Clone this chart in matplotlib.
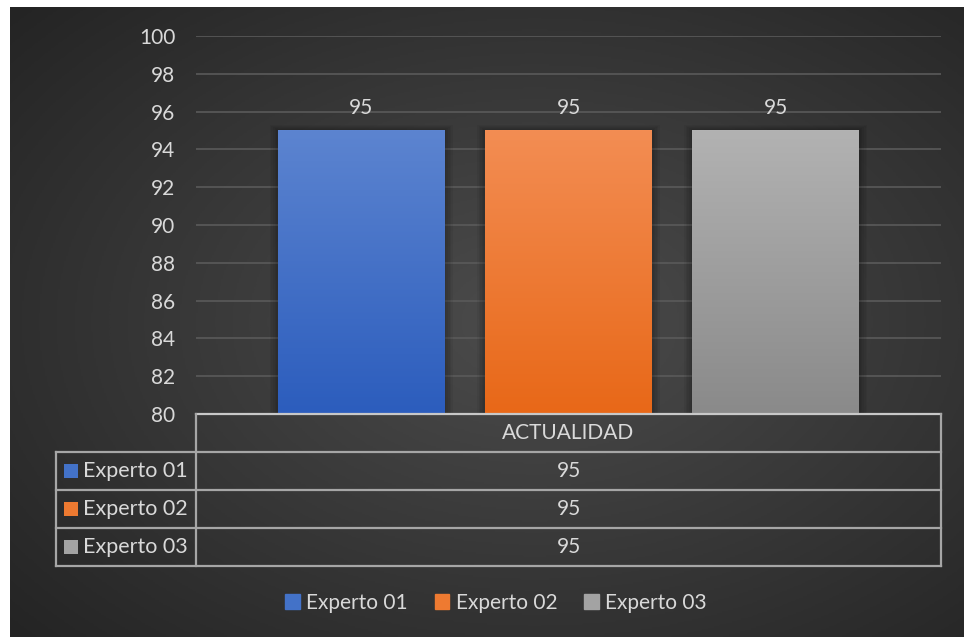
import numpy as np
import matplotlib
matplotlib.use("Agg")
import matplotlib.pyplot as plt
from matplotlib.colors import LinearSegmentedColormap
from matplotlib.patches import Rectangle
from matplotlib.lines import Line2D

plt.rcParams['font.family'] = ['Lato', 'DejaVu Sans']

# Chart data
category = 'ACTUALIDAD'
series = ['Experto 01', 'Experto 02', 'Experto 03']
values = [95, 95, 95]
yticks = [80, 82, 84, 86, 88, 90, 92, 94, 96, 98, 100]

# gradient (top, bottom) per series
grad = [('#5c84d0', '#2c5dbd'), ('#f38d53', '#e86818'), ('#b2b2b2', '#8a8a8a')]
solid = ['#4372c8', '#ee7a31', '#a3a3a3']
txt = '#d9d9d9'
line_c = '#a6a6a6'

W, H = 964, 637
fig = plt.figure(figsize=(W / 100, H / 100), dpi=100)
fig.patch.set_facecolor('white')

# radial dark background
bg = fig.add_axes([10 / W, 0, (W - 10) / W, (H - 7) / H])
bg.set_axis_off()
yy, xx = np.mgrid[0:1:400j, 0:1:600j]
r = np.sqrt(((xx - 0.55) / 0.75) ** 2 + ((yy - 0.5) / 0.75) ** 2)
shade = np.clip(1 - r, 0, 1)
bg_cmap = LinearSegmentedColormap.from_list('bg', ['#242424', '#4c4c4c'])
bg.imshow(shade, cmap=bg_cmap, aspect='auto', extent=[0, 1, 0, 1], origin='lower')

# main plot area
x0, x1, ytop, ybot = 196, 941, 36, 414
ax = fig.add_axes([x0 / W, (H - ybot) / H, (x1 - x0) / W, (ybot - ytop) / H])
ax.patch.set_alpha(0)
ax.set_xlim(-0.5, 0.5)
ax.set_ylim(80, 100)
ax.set_yticks(yticks)
ax.set_yticklabels([str(t) for t in yticks], color=txt, fontsize=15)
ax.tick_params(axis='y', length=0, pad=15)
ax.set_xticks([])
for s in ax.spines.values():
    s.set_visible(False)
ax.grid(axis='y', color='#5a5a5a', linewidth=1.2)
ax.set_axisbelow(True)

bw = 0.224
offs = [-0.278, 0.0, 0.278]
for i, (off, v) in enumerate(zip(offs, values)):
    bar = ax.bar(off, v - 80, bottom=80, width=bw, color=solid[i], zorder=3)[0]
    bx, bwid = bar.get_x(), bar.get_width()
    # soft shadow
    for k in range(1, 6):
        pad = 0.0022 * k
        ax.add_patch(Rectangle((bx - pad, 80), bwid + 2 * pad, v - 80 + 0.06 * k,
                               color='black', alpha=0.05, zorder=2, linewidth=0))
    cm = LinearSegmentedColormap.from_list('g%d' % i, [grad[i][1], grad[i][0]])
    ax.imshow(np.linspace(0, 1, 100).reshape(-1, 1), cmap=cm, aspect='auto',
              extent=[bx, bx + bwid, 80, v], origin='lower', zorder=4)
    ax.text(off, v + 0.65, str(v), ha='center', va='bottom', color=txt, fontsize=15, zorder=5)

ax.set_xlim(-0.5, 0.5)
ax.set_ylim(80, 100)

# data table below the axis
rh = 38 / (ybot - ytop)
lx = (56 - x0) / (x1 - x0)
lw = 1.6
def hline(xa, xb, y, c=line_c):
    ax.add_line(Line2D([xa, xb], [y, y], transform=ax.transAxes, color=c,
                       linewidth=lw, clip_on=False, zorder=6))
def vline(x, ya, yb):
    ax.add_line(Line2D([x, x], [ya, yb], transform=ax.transAxes, color=line_c,
                       linewidth=lw, clip_on=False, zorder=6))

hline(0, 1, 0, c='#c8c8c8')
for k in range(1, 5):
    hline(lx, 1, -rh * k)
vline(0, 0, -4 * rh)
vline(1, 0, -4 * rh)
vline(lx, -rh, -4 * rh)

ax.text(0.5, -rh / 2, category, transform=ax.transAxes, ha='center', va='center',
        color=txt, fontsize=15)
for k, (name, v) in enumerate(zip(series, values)):
    yc = -rh * (k + 1.5)
    ax.text(0.5, yc, str(v), transform=ax.transAxes, ha='center', va='center',
            color=txt, fontsize=15)
    ax.add_patch(Rectangle((lx + 8 / (x1 - x0), yc - 7 / (ybot - ytop)),
                           14 / (x1 - x0), 14 / (ybot - ytop), transform=ax.transAxes,
                           color=solid[k], clip_on=False, zorder=6, linewidth=0))
    ax.text(lx + 27 / (x1 - x0), yc, name, transform=ax.transAxes, ha='left', va='center',
            color=txt, fontsize=15.5)

# legend
handles = [Rectangle((0, 0), 1, 1, color=c) for c in solid]
fig.legend(handles, series, loc='center', bbox_to_anchor=(496 / W, 1 - 603 / H),
           ncol=3, frameon=False, fontsize=15, labelcolor=txt,
           handlelength=0.7, handleheight=0.7, handletextpad=0.3, columnspacing=1.3)

fig.savefig('out.png', dpi=100)
